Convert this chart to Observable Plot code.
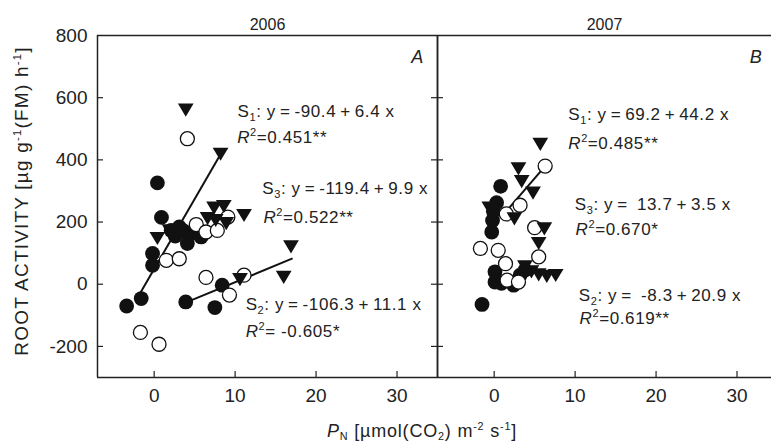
<!DOCTYPE html>
<html><head><meta charset="utf-8">
<script src="https://cdn.jsdelivr.net/npm/d3@7"></script>
<script src="https://cdn.jsdelivr.net/npm/@observablehq/plot@0.6"></script>
<style>
html,body{margin:0;padding:0;background:#fff;}
#wrap{position:relative;width:771px;height:445px;overflow:hidden;font-family:"Liberation Sans",Arial,sans-serif;color:#222;}
#wrap svg{position:absolute;top:0;}
.ylab{position:absolute;left:22px;top:201px;transform:translate(-50%,-50%) rotate(-90deg);white-space:nowrap;font-size:19px;letter-spacing:1.2px;}
.xlab{position:absolute;left:422px;top:431px;transform:translate(-50%,-50%);white-space:nowrap;font-size:18px;letter-spacing:0.8px;}
.ylab sup,.xlab sup{font-size:0.6em;vertical-align:0.6em;line-height:0;}
.xlab sub{font-size:0.6em;vertical-align:-0.3em;line-height:0;}
</style></head><body>
<div id="wrap"></div>
<script>
// ---------- data ----------
const panelTitles = ["2006", "2007"];
const panelLetters = ["A", "B"];
const xTicks = [0, 10, 20, 30];
const xTickLabels = ["0", "10", "20", "30"];
const yTicks = [-200, 0, 200, 400, 600, 800];
const yTickLabels = ["-200", "0", "200", "400", "600", "800"];
const yLabelHTML = "ROOT ACTIVITY [\u00b5g g<sup>-1</sup>(FM) h<sup>-1</sup>]";
const xLabelHTML = "<i>P</i><sub>N</sub> [\u00b5mol(CO<sub>2</sub>) m<sup>-2</sup> s<sup>-1</sup>]";

// 2006 (panel A)
const a_tri_x = [3.9, 8.2, 0.4, 1.9, 6.6, 7.4, 7.6, 8.6, 8.9, 11.1, 10.6, 16.0, 16.9];
const a_tri_y = [560, 418, 147, 172, 211, 245, 205, 250, 195, 221, 15, 22, 120];
const a_fill_x = [0.4, 0.9, -0.2, -0.2, -3.4, -1.6, 2.1, 2.6, 3.1, 3.6, 4.1, 4.6, 5.8, 3.9, 7.5, 8.4];
const a_fill_y = [326, 215, 99, 61, -70, -46, 173, 155, 184, 172, 131, 163, 152, -57, -75, -3];
const a_open_x = [4.1, 1.5, 3.1, 5.2, 6.4, 7.8, 9.1, 6.4, 11.1, 9.3, -1.7, 0.6];
const a_open_y = [468, 77, 82, 192, 168, 173, 216, 22, 29, -35, -155, -193];
const a_line_x1 = [-2.2, 4.1], a_line_y1 = [-50, -57], a_line_x2 = [8.2, 17.1], a_line_y2 = [418, 83];
const a_note_text = ["S\u2081: y\u2009=\u2009-90.4\u2009+\u20096.4 x", "R\u00b2=0.451**",
  "S\u2083: y\u2009=\u2009-119.4\u2009+\u20099.9 x", "R\u00b2=0.522**",
  "S\u2082: y\u2009=\u2009-106.3\u2009+\u200911.1 x", "R\u00b2= -0.605*"];
const a_note_x = [10.3, 10.25, 13.35, 13.5, 11.3, 11.3];
const a_note_y = [556, 472, 309, 215, -64, -151];

// 2007 (panel B)
const b_tri_x = [5.7, 3.0, 3.4, 4.8, -0.6, 2.5, 6.2, 5.5, 3.8, 4.6, 5.5, 6.5, 7.6];
const b_tri_y = [450, 371, 330, 293, 245, 210, 178, 131, 56, 40, 30, 25, 28];
const b_fill_x = [-1.5, 0.8, 0.3, -0.1, -0.2, -0.3, 0.1, 0.1, 0.9, 2.4, 3.2, 3.8];
const b_fill_y = [-65, 315, 262, 235, 205, 168, 40, 7, 3, -3, 29, 45];
const b_open_x = [6.3, 3.2, 1.5, 5.0, -1.7, 0.5, 1.4, 5.5, 1.6, 3.0];
const b_open_y = [380, 254, 226, 182, 115, 109, 66, 88, 13, 7];
const b_line_x1 = [1.4], b_line_y1 = [232], b_line_x2 = [6.3], b_line_y2 = [380];
const b_note_text = ["S\u2081: y\u2009=\u200969.2\u2009+\u200944.2 x", "R\u00b2=0.485**",
  "S\u2083: y\u2009=\u2009 13.7\u2009+\u20093.5 x", "R\u00b2=0.670*",
  "S\u2082: y\u2009=\u2009 -8.3\u2009+\u200920.9 x", "R\u00b2=0.619**"];
const b_note_x = [9.15, 9.15, 9.95, 10.05, 10.45, 10.55];
const b_note_y = [545, 453, 257, 177, -35, -109];

// ---------- drawing ----------
const yDomain = [-300, 800];
const H = 445, MT = 35, MB = 68, TICK = 6;
const INK = "#111", FRAME = "#222";
const FONT = "'Liberation Sans', Arial, sans-serif";

const triDown = {
  draw(ctx, size) {
    const r = Math.sqrt(size / Math.PI);
    const w = 1.05 * r, h = 0.88 * r;
    ctx.moveTo(-w, -h); ctx.lineTo(w, -h); ctx.lineTo(0, h); ctx.closePath();
  }
};
const zip = (xs, ys) => xs.map((x, i) => ({x, y: ys[i]}));

function makePanel(cfg) {
  const xDomain = cfg.xDomain;
  const pxX = (cfg.width - cfg.marginLeft - cfg.marginRight) / (xDomain[1] - xDomain[0]);
  const pxY = (H - MT - MB) / (yDomain[1] - yDomain[0]);
  const tlx = TICK / pxX, tly = TICK / pxY;
  const lines = cfg.lx1.map((v, i) => ({x1: v, y1: cfg.ly1[i], x2: cfg.lx2[i], y2: cfg.ly2[i]}));
  const notes = cfg.noteText.map((t, i) => ({x: cfg.noteX[i], y: cfg.noteY[i], t}));
  const innerY = yTicks.filter(v => v > yDomain[0] && v < yDomain[1]);
  const marks = [
    // frame
    Plot.ruleY([yDomain[0], yDomain[1]], {stroke: FRAME, strokeWidth: 1.5}),
    Plot.ruleX(cfg.rightFrame ? [xDomain[0], xDomain[1]] : [xDomain[0]], {stroke: FRAME, strokeWidth: 1.5}),
    // inner ticks
    Plot.ruleY(innerY, {x1: xDomain[0], x2: xDomain[0] + tlx, stroke: FRAME, strokeWidth: 1.2}),
    Plot.ruleX(xTicks, {y1: yDomain[0], y2: yDomain[0] + tly, stroke: FRAME, strokeWidth: 1.2}),
    // tick labels
    Plot.axisX(xTicks, {tickSize: 0, tickPadding: 11, fontSize: 19, label: null, tickFormat: d => xTickLabels[xTicks.indexOf(d)]}),
    // regression lines
    Plot.link(lines, {x1: "x1", y1: "y1", x2: "x2", y2: "y2", stroke: INK, strokeWidth: 2}),
    // points
    Plot.dot(zip(cfg.fx, cfg.fy), {x: "x", y: "y", r: 7.4, fill: INK}),
    Plot.dot(zip(cfg.ox, cfg.oy), {x: "x", y: "y", r: 7, fill: "white", stroke: INK, strokeWidth: 1.3}),
    Plot.dot(zip(cfg.tx, cfg.ty), {x: "x", y: "y", r: 7.5, symbol: triDown, fill: INK}),
    // annotations
    Plot.text(notes, {x: "x", y: "y", text: "t", textAnchor: "start", lineAnchor: "middle", fontSize: 17, fill: "#222"}),
    Plot.text([cfg.letter], {x: () => cfg.letterX, y: () => 729, fontSize: 18, fontStyle: "italic", fill: "#222"}),
    Plot.text([cfg.title], {frameAnchor: "top", dy: -17, fontSize: 16, fill: "#222"})
  ];
  if (cfg.rightFrame) {
    marks.splice(3, 0, Plot.ruleY(innerY, {x1: xDomain[1] - tlx, x2: xDomain[1], stroke: FRAME, strokeWidth: 1.2}));
  }
  if (cfg.yLabels) {
    marks.push(Plot.axisY(yTicks, {tickSize: 0, tickPadding: 10, fontSize: 19, label: null, tickFormat: d => yTickLabels[yTicks.indexOf(d)]}));
  }
  const svg = Plot.plot({
    width: cfg.width, height: H,
    marginTop: MT, marginBottom: MB, marginLeft: cfg.marginLeft, marginRight: cfg.marginRight,
    x: {domain: xDomain, label: null},
    y: {domain: yDomain, label: null, axis: cfg.yLabels ? undefined : null},
    style: {fontFamily: FONT, fontSize: "18px", background: "transparent", color: "#222", overflow: "visible"},
    marks
  });
  svg.style.left = cfg.left + "px";
  enrich(svg);
  return svg;
}

// turn Unicode sub/superscripts into tspans; italic R
function enrich(svg) {
  const subs = {"\u2081": "1", "\u2082": "2", "\u2083": "3"};
  const sups = {"\u00b2": "2"};
  const NS = "http://www.w3.org/2000/svg";
  svg.querySelectorAll("text").forEach(t => {
    const s = t.textContent;
    if (!/[\u2081\u2082\u2083\u00b2]/.test(s)) return;
    while (t.firstChild) t.removeChild(t.firstChild);
    t.setAttribute("letter-spacing", "0.6");
    const runs = [];
    let first = true;
    for (const ch of s) {
      let type = "n", c = ch;
      if (subs[ch]) { type = "sub"; c = subs[ch]; }
      else if (sups[ch]) { type = "sup"; c = sups[ch]; }
      else if (first && ch === "R") type = "it";
      first = false;
      const last = runs[runs.length - 1];
      if (last && last.type === type) last.text += c; else runs.push({type, text: c});
    }
    let shift = 0;
    for (const r of runs) {
      const ts = document.createElementNS(NS, "tspan");
      const target = r.type === "sub" ? 4 : r.type === "sup" ? -7 : 0;
      if (target !== shift) { ts.setAttribute("dy", String(target - shift)); shift = target; }
      if (r.type === "sub" || r.type === "sup") ts.setAttribute("font-size", "11");
      if (r.type === "it") ts.setAttribute("font-style", "italic");
      ts.textContent = r.text;
      t.appendChild(ts);
    }
  });
}

const wrap = document.getElementById("wrap");
wrap.appendChild(makePanel({
  width: 440, marginLeft: 97, marginRight: 3, left: 0, xDomain: [-7, 35], rightFrame: true, yLabels: true,
  tx: a_tri_x, ty: a_tri_y, fx: a_fill_x, fy: a_fill_y, ox: a_open_x, oy: a_open_y,
  lx1: a_line_x1, ly1: a_line_y1, lx2: a_line_x2, ly2: a_line_y2,
  noteText: a_note_text, noteX: a_note_x, noteY: a_note_y,
  title: panelTitles[0], letter: panelLetters[0], letterX: 32.5
}));
wrap.appendChild(makePanel({
  width: 337, marginLeft: 3, marginRight: 0, left: 434, xDomain: [-7, 34.26], rightFrame: false, yLabels: false,
  tx: b_tri_x, ty: b_tri_y, fx: b_fill_x, fy: b_fill_y, ox: b_open_x, oy: b_open_y,
  lx1: b_line_x1, ly1: b_line_y1, lx2: b_line_x2, ly2: b_line_y2,
  noteText: b_note_text, noteX: b_note_x, noteY: b_note_y,
  title: panelTitles[1], letter: panelLetters[1], letterX: 32.3
}));
const yl = document.createElement("div"); yl.className = "ylab"; yl.innerHTML = yLabelHTML; wrap.appendChild(yl);
const xl = document.createElement("div"); xl.className = "xlab"; xl.innerHTML = xLabelHTML; wrap.appendChild(xl);
</script>
</body></html>
